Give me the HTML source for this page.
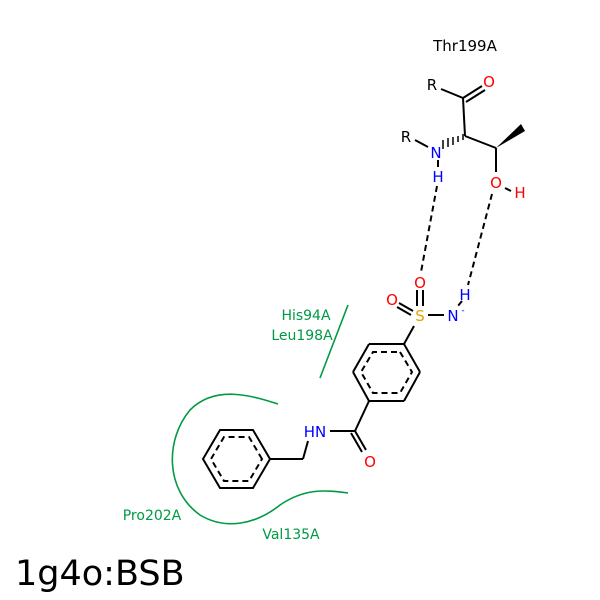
<html><body style="margin:0;background:#fff">
<svg width="600" height="600" viewBox="0 0 600 600" xmlns="http://www.w3.org/2000/svg" font-family="DejaVu Sans, Liberation Sans, sans-serif">
<rect width="600" height="600" fill="#fff"/>
<g stroke="#000" stroke-width="2" fill="none">
<line x1="441" y1="89" x2="463" y2="98"/>
<line x1="463" y1="98" x2="482" y2="86"/>
<line x1="466" y1="102" x2="485" y2="90"/>
<line x1="463" y1="98" x2="465" y2="136"/>
<line x1="465" y1="136" x2="496" y2="148"/>
<line x1="415" y1="140" x2="428" y2="147"/>
<line x1="438" y1="160" x2="438" y2="167"/>
<line x1="496" y1="148" x2="496" y2="172"/>
<line x1="505" y1="188" x2="511" y2="191"/>
<line x1="404" y1="344" x2="420" y2="372"/><line x1="420" y1="372" x2="404" y2="401"/><line x1="404" y1="401" x2="369" y2="401"/><line x1="369" y1="401" x2="353" y2="372"/><line x1="353" y1="372" x2="369" y2="344"/><line x1="369" y1="344" x2="404" y2="344"/>
<line x1="404" y1="344" x2="414" y2="326"/>
<line x1="428" y1="315" x2="444" y2="315"/>
<line x1="399" y1="303" x2="413" y2="311"/><line x1="397" y1="307" x2="411" y2="315"/>
<line x1="417" y1="290" x2="417" y2="306"/><line x1="423" y1="290" x2="423" y2="306"/>
<line x1="369" y1="401" x2="355" y2="431"/>
<line x1="355" y1="431" x2="330" y2="431"/>
<line x1="355" y1="431" x2="366" y2="450"/><line x1="351" y1="433" x2="362" y2="452"/>
<line x1="308" y1="441" x2="303" y2="459"/>
<line x1="303" y1="459" x2="270" y2="459"/>
<polygon points="270,459 253,430 220,430 203,459 220,488 253,488"/>
</g>
<g stroke="#000" stroke-width="2" stroke-dasharray="6,4" fill="none">
<polygon points="400,352 412,372 400,393 373,393 361,372 373,352"/>
<polygon points="262,459 249,437 224,437 211,459 224,481 249,481"/>
<line x1="437" y1="186" x2="421" y2="272"/>
<line x1="492" y1="194" x2="468" y2="285"/>
<line x1="462" y1="301" x2="458" y2="306"/>
</g>
<polygon points="496,148 521,124 525,131" fill="#000"/>
<g stroke="#000" stroke-width="1.5">
<line x1="463" y1="140" x2="463" y2="134"/><line x1="458" y1="142" x2="458" y2="136"/><line x1="453" y1="145" x2="453" y2="137"/><line x1="448" y1="147" x2="448" y2="138"/><line x1="443" y1="149" x2="443" y2="140"/>
</g>
<g font-size="15" text-anchor="middle">
<text x="465" y="51" fill="#000">Thr199A</text>
<text x="432" y="90" fill="#000">R</text>
<text x="406" y="142" fill="#000">R</text>
<text x="489" y="87" fill="red">O</text>
<text x="436" y="158" fill="#00f">N</text>
<text x="438" y="182" fill="#00f">H</text>
<text x="496" y="188" fill="red">O</text>
<text x="520" y="198" fill="red">H</text>
<text x="420" y="288" fill="red">O</text>
<text x="392" y="305" fill="red">O</text>
<text x="420" y="321" fill="#e8a000">S</text>
<text x="453" y="321" fill="#00f">N</text>
<text x="463" y="313" fill="#00f" font-size="9">-</text>
<text x="465" y="300" fill="#00f">H</text>
<text x="315" y="437" fill="#00f">HN</text>
<text x="370" y="467" fill="red">O</text>
</g>
<g stroke="#009944" stroke-width="1.6" fill="none">
<line x1="348" y1="305" x2="320" y2="378"/>
<path d="M278,404 C250,395 215,385 190,410 C165,440 165,490 200,515 C225,530 255,525 280,505 C305,488 325,490 348,493"/>
</g>
<g font-size="14" fill="#009944" text-anchor="middle">
<text x="306" y="320">His94A</text>
<text x="302" y="340">Leu198A</text>
<text x="152" y="520">Pro202A</text>
<text x="291" y="539">Val135A</text>
</g>
<text x="15" y="585" font-size="35" fill="#000">1g4o:BSB</text>
</svg>
</body></html>
